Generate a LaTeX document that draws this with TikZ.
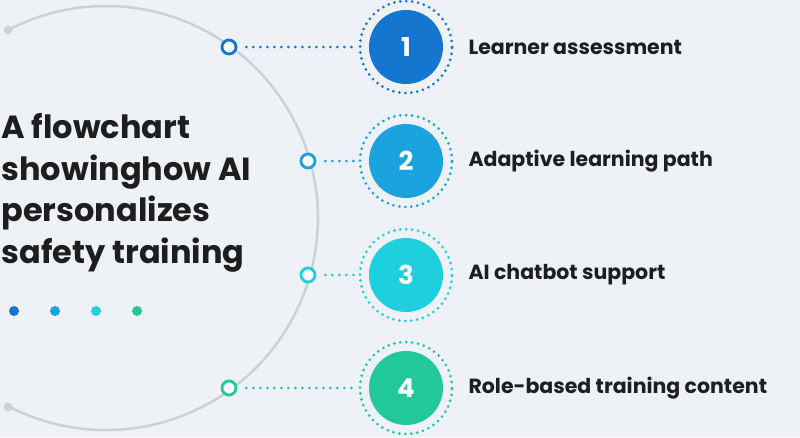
\documentclass[tikz,border=0pt]{standalone}
\usepackage{fontspec}
\setmainfont{Poppins}
\definecolor{BgGrey}{RGB}{238, 242, 247}
\definecolor{ArcGrey}{RGB}{205, 208, 212}
\definecolor{StepOne}{RGB}{21, 118, 208}
\definecolor{StepTwo}{RGB}{27, 163, 224}
\definecolor{StepThree}{RGB}{30, 207, 222}
\definecolor{StepFour}{RGB}{34, 200, 155}
\definecolor{TextDark}{RGB}{30, 30, 30}
\usetikzlibrary{positioning}

\begin{document}
\begin{tikzpicture}[x=1pt, y=-1pt,
    numdisc/.style={circle, minimum size=74pt, inner sep=0pt, text=white, font=\fontsize{26}{26}\bfseries},
    ringdots/.style={draw, line width=3pt, line cap=round, dash pattern=on 0pt off 6pt},
    knob/.style={circle, draw, line width=2.8pt, fill=white, minimum size=14pt, inner sep=0pt},
    linkdots/.style={line width=3pt, line cap=round, dash pattern=on 0pt off 7pt},
    steplabel/.style={right, font=\fontsize{20.5}{20.5}\bfseries, text=TextDark}]
    \fill[BgGrey] (0,0) rectangle (800,437);
    \useasboundingbox (0,0) rectangle (800,437);

    % big arc
    \draw[ArcGrey, line width=2.5pt] (8,30) arc[start angle=-117.5, end angle=117.5, radius=212];
    \fill[ArcGrey] (8,30) circle (4.5pt) (8,407) circle (4.5pt);

    % title
    \node[anchor=north west, align=left, text=TextDark, font=\fontsize{32}{41.5}\bfseries] (title) at (-2,110)
        {A flowchart\\ showinghow AI\\ personalizes\\ safety training};
    \foreach \c/\x in {StepOne/14, StepTwo/55, StepThree/96, StepFour/137}
        \fill[\c] (\x,311) circle (5pt);

    % steps
    \foreach \i/\c/\kx/\y/\txt in {1/StepOne/229/47/Learner assessment,
                                  2/StepTwo/308/161/Adaptive learning path,
                                  3/StepThree/308/275/AI chatbot support,
                                  4/StepFour/229/388/Role-based training content} {
        \node[numdisc, fill=\c] (num\i) at (406,\y) {\i};
        \draw[ringdots, \c] (num\i.center) circle (46pt);
        \node[knob, draw=\c] (knob\i) at (\kx,\y) {};
        \coordinate (ring\i) at (358,\y);
        \draw[linkdots, \c] (knob\i.east) ++(9,0) -- (ring\i);
        \node[steplabel] (label\i) at (465,\y) {\txt};
    }
\end{tikzpicture}
\end{document}
